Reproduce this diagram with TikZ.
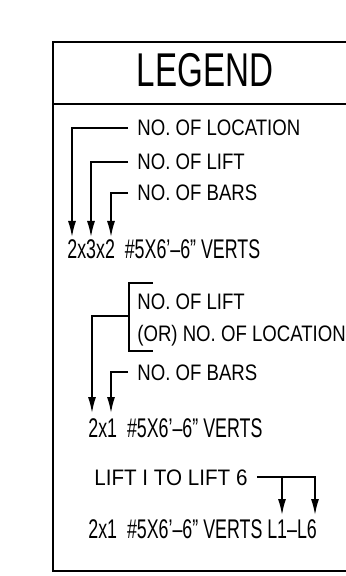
\documentclass[tikz,border=0pt]{standalone}
\usepackage{fontspec}
\setmainfont{Liberation Sans}
\newfontfamily\cadlabel[FakeStretch=0.83]{Liberation Sans}
\newfontfamily\cadrange[FakeStretch=0.92]{Liberation Sans}
\newfontfamily\cadmark[FakeStretch=0.66]{Liberation Sans}
\newfontfamily\cadtitle[FakeStretch=0.70]{Liberation Sans}
\usetikzlibrary{arrows.meta}
\tikzset{
  lbl/.style={anchor=west, inner xsep=4.5pt, inner ysep=0pt, text height=8pt, text depth=0pt,
    font=\cadlabel\fontsize{11.2}{13}\selectfont},
  barmark/.style={anchor=base west, inner sep=0pt, font=\cadmark\fontsize{13.5}{15}\selectfont},
  ldr/.style={line width=0.75pt, -{Latex[length=8pt,width=4pt]}},
  frame/.style={line width=1pt}
}
\begin{document}
\begin{tikzpicture}[x=0.5pt,y=-0.5pt]
\useasboundingbox (0,0) rectangle (346,576);

\draw[frame] (360,42) -- (53,42) -- (53,571) -- (360,571);
\draw[frame] (53,104) -- (360,104);
\node[font=\cadtitle\fontsize{23.7}{26}\selectfont] (title) at (205,70) {LEGEND};

\node[lbl] (loc) at (128,128) {NO. OF LOCATION};
\node[lbl] (lift) at (128,162) {NO. OF LIFT};
\node[lbl] (bars) at (128,193) {NO. OF BARS};
\coordinate (a1) at (72,237);
\coordinate (a2) at (91,237);
\coordinate (a3) at (111,237);
\draw[ldr] (loc.west) -| (a1);
\draw[ldr] (lift.west) -| (a2);
\draw[ldr] (bars.west) -| (a3);
\node[barmark] (m1) at (67,259) {2x3x2\ \ \#5X6’–6” VERTS};

\node[lbl] (lift2) at (128,301) {NO. OF LIFT};
\node[lbl] (or2) at (128,333) {(OR) NO. OF LOCATION};
\draw[line width=0.75pt] (153,283) -- (129,283) -- (129,351) -- (153,351);
\coordinate (brk) at (129,316);
\node[lbl] (bars2) at (128,372) {NO. OF BARS};
\coordinate (b1) at (92,413);
\coordinate (b2) at (111,413);
\draw[ldr] (brk) -| (b1);
\draw[ldr] (bars2.west) -| (b2);
\node[barmark] (m2) at (88,437) {2x1\ \ \#5X6’–6” VERTS};

\node[lbl, font=\cadrange\fontsize{11.2}{13}\selectfont] (rng) at (85,477) {LIFT I TO LIFT 6};
\coordinate (t1) at (282,515);
\coordinate (t6) at (315,515);
\draw[ldr] (rng.east) -| (t6);
\draw[ldr] (rng.east -| t1) -- (t1);
\node[barmark] (m3) at (88,538) {2x1\ \ \#5X6’–6” VERTS L1–L6};
\end{tikzpicture}
\end{document}
